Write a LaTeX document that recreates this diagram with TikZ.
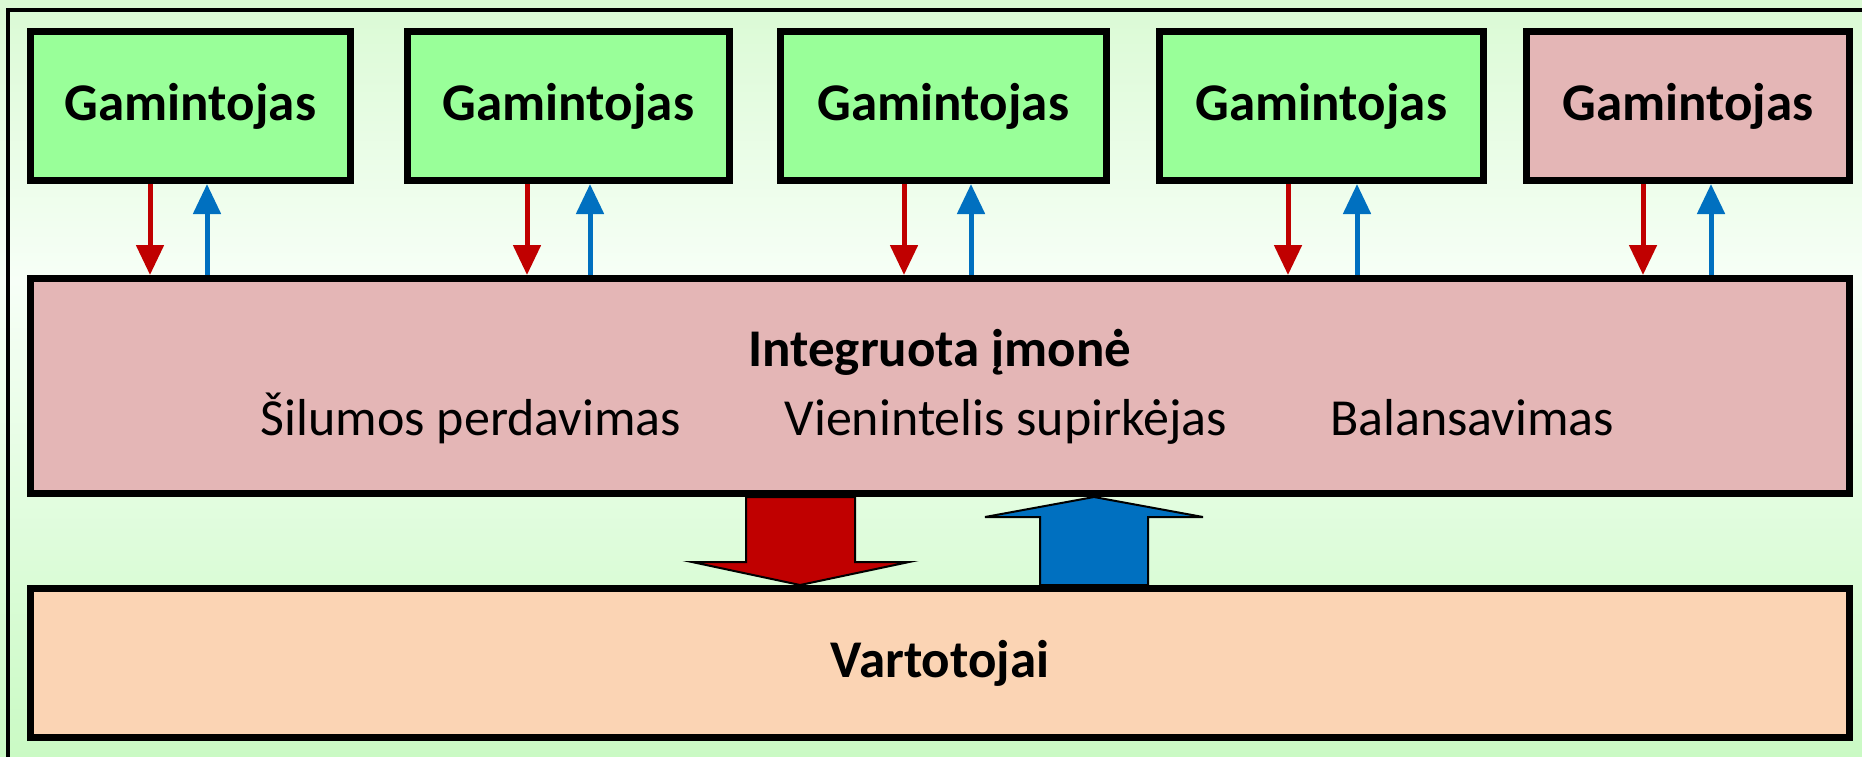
\documentclass[tikz,border=0pt]{standalone}
\usepackage{fontspec}
\setmainfont{Carlito}
\usetikzlibrary{arrows.meta,calc}
\definecolor{gbox}{RGB}{153,255,153}
\definecolor{pbox}{RGB}{228,182,182}
\definecolor{obox}{RGB}{251,212,180}
\definecolor{bgtop}{RGB}{218,250,212}
\definecolor{bgmid}{RGB}{247,255,247}
\definecolor{bgbot}{RGB}{202,250,196}
\definecolor{redc}{RGB}{192,0,0}
\definecolor{bluec}{RGB}{0,112,192}
\tikzset{
  box/.style={draw=black, line width=7pt, inner sep=0pt, font=\fontsize{53}{60}\selectfont\bfseries},
  gbx/.style={box, fill=gbox, minimum height=149pt},
  lbl/.style={anchor=base, inner sep=0pt, font=\fontsize{52}{60}\selectfont},
  redarr/.style={draw=redc, line width=5pt, -{Triangle[width=27pt,length=30pt]}},
  bluearr/.style={draw=bluec, line width=5pt, -{Triangle[width=27pt,length=30pt]}},
  bigarr/.style={draw=black, line width=2pt, line join=miter}
}
\begin{document}
\begin{tikzpicture}[x=1pt,y=-1pt]
\useasboundingbox (0,0) rectangle (1862,756);
\shade[top color=bgtop, bottom color=bgmid] (0,0) rectangle (1862,280);
\shade[top color=bgmid, bottom color=bgbot] (0,280) rectangle (1862,756);
\draw[line width=4pt] (8,780) -- (8,10) -- (1880,10);

\node[gbx, minimum width=320pt] (g1) at (190.5,106) {Gamintojas};
\node[gbx, minimum width=322pt] (g2) at (568.5,106) {Gamintojas};
\node[gbx, minimum width=326pt] (g3) at (943.5,106) {Gamintojas};
\node[gbx, minimum width=324pt] (g4) at (1321.5,106) {Gamintojas};
\node[gbx, minimum width=323pt, fill=pbox] (g5) at (1688,106) {Gamintojas};

\node[box, fill=pbox, minimum width=1819pt, minimum height=215pt] (mid) at (940,386) {};
\node[lbl, font=\fontsize{53}{60}\selectfont\bfseries] (t0) at (940,366) {Integruota įmonė};
\node[lbl] (t1) at (471,435) {Šilumos perdavimas};
\node[lbl] (t2) at (1006,435) {Vienintelis supirkėjas};
\node[lbl] (t3) at (1472,435) {Balansavimas};

\node[box, fill=obox, minimum width=1819pt, minimum height=149pt] (cons) at (940,663) {Vartotojai};

\foreach \g/\r/\b in {g1/-40.5/16.5, g2/-41.5/21.5, g3/-39.5/27.5, g4/-33.5/35.5, g5/-45/23}{
  \draw[redarr] ([xshift=\r pt]\g.south) -- ([xshift=\r pt]\g.south |- mid.north);
  \draw[bluearr] ([xshift=\b pt]\g.south |- mid.north) -- ([xshift=\b pt]\g.south);
}

\filldraw[bigarr, fill=redc] ($(mid.south)+(-194,0)$) -- ($(cons.north)+(-194,-23)$) -- ($(cons.north)+(-248,-23)$) -- ($(cons.north)+(-140,0)$) -- ($(cons.north)+(-31,-23)$) -- ($(cons.north)+(-85,-23)$) -- ($(mid.south)+(-85,0)$) -- cycle;
\filldraw[bigarr, fill=bluec] ($(cons.north)+(100,0)$) -- ($(mid.south)+(100,20)$) -- ($(mid.south)+(45,20)$) -- ($(mid.south)+(154,0)$) -- ($(mid.south)+(263,20)$) -- ($(mid.south)+(208,20)$) -- ($(cons.north)+(208,0)$) -- cycle;
\end{tikzpicture}
\end{document}
